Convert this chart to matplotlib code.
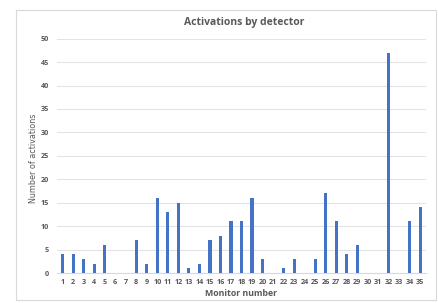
import matplotlib
matplotlib.use('Agg')
import matplotlib.pyplot as plt
from matplotlib.patches import Rectangle
import numpy as np

# data
monitors = list(range(1, 36))
activations = [4, 4, 3, 2, 6, 0, 0, 7, 2, 16, 13, 15, 1, 2, 7, 8, 11, 11, 16, 3,
               0, 1, 3, 0, 3, 17, 11, 4, 6, 0, 0, 47, 0, 11, 14]
y_ticks = list(range(0, 51, 5))

W, H = 438, 303
fig = plt.figure(figsize=(W / 100, H / 100), dpi=100)
fig.patch.set_facecolor('white')

# outer chart frame
fig.patches.append(Rectangle((16 / W, 1 - 300 / H), 420 / W, 290 / H,
                             transform=fig.transFigure, fill=False,
                             edgecolor='#d9d9d9', lw=0.8))

left, right = 57.4 / W, 425.6 / W
top, bottom = 1 - 38.7 / H, 1 - 273 / H
ax = fig.add_axes([left, bottom, right - left, top - bottom])

x = np.arange(len(monitors))
ax.bar(x, activations, width=0.3, color='#4472c4', zorder=3)

ax.set_xlim(-0.5, len(monitors) - 0.5)
ax.set_ylim(0, 50)
ax.set_yticks(y_ticks)
ax.set_xticks(x)
ax.set_xticklabels([str(m) for m in monitors])
ax.yaxis.grid(True, color='#e3e3e3', lw=0.8, zorder=0)
for s in ax.spines.values():
    s.set_visible(False)
ax.spines['bottom'].set_visible(True)
ax.spines['bottom'].set_color('#d9d9d9')
ax.tick_params(length=0, labelsize=5.2, colors='#595959', pad=4)
ax.tick_params(axis='y', pad=6)

for lab in ax.get_xticklabels() + ax.get_yticklabels():
    lab.set_family('Open Sans')
    lab.set_fontweight('bold')

fig.text(0.5 * (left + right) + 0.005, 1 - 22 / H, 'Activations by detector',
         ha='center', va='center', fontsize=7.5, fontweight='bold',
         color='#595959', family='Open Sans')
fig.text(241 / W, 1 - 293 / H, 'Monitor number', ha='center', va='center',
         fontsize=6.3, fontweight='bold', color='#595959', family='Open Sans')
fig.text(33 / W, 1 - 158 / H, 'Number of activations', ha='center', va='center',
         rotation=90, fontsize=5.8, color='#595959', family='Liberation Sans Narrow')

fig.savefig('out.png', dpi=100)
